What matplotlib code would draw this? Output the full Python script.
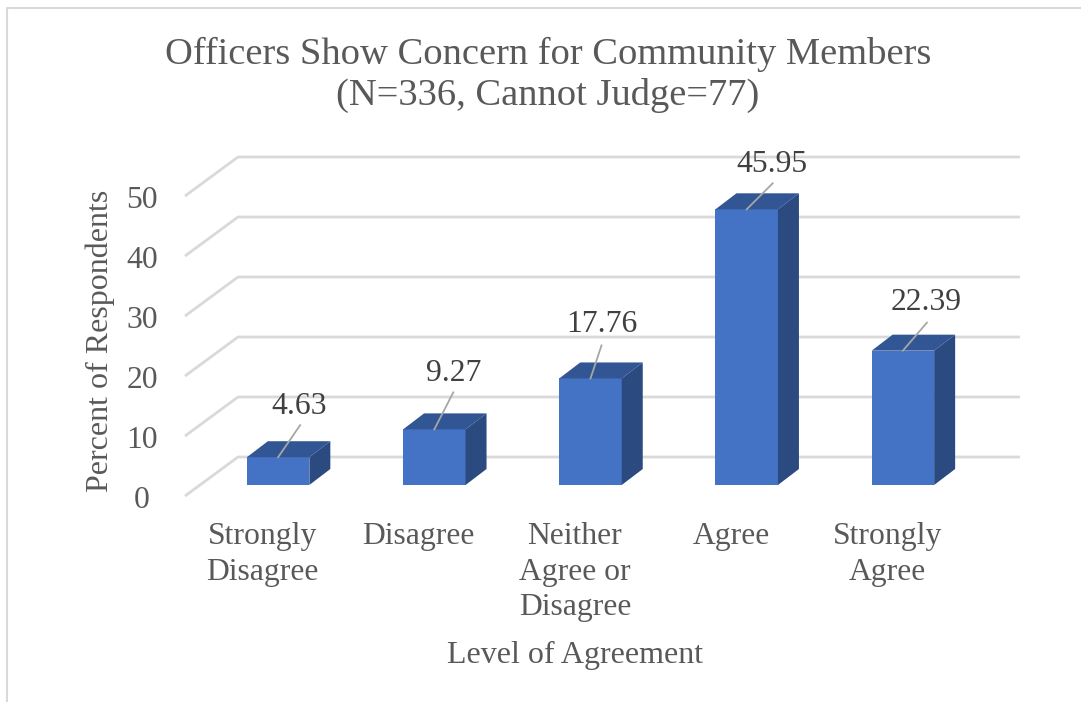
import matplotlib
matplotlib.use('Agg')
import matplotlib.pyplot as plt
from matplotlib.patches import Polygon

W, H = 1081, 702

categories = ['Strongly\nDisagree', 'Disagree', 'Neither\nAgree or\nDisagree', 'Agree', 'Strongly\nAgree']
values = [4.63, 9.27, 17.76, 45.95, 22.39]
yticks = [0, 10, 20, 30, 40, 50]
title = 'Officers Show Concern for Community Members\n(N=336, Cannot Judge=77)'

# data label centre and leader line end, relative to the top of the bar, in pixels
label_offsets = [(21, 51), (19, 56), (11, 54), (25, 45), (23, 48)]
leader_offsets = [(22, 32), (19, 37), (11, 33), (26, 26), (24, 28)]

plt.rcParams['font.family'] = ['Liberation Serif', 'DejaVu Serif']

fig = plt.figure(figsize=(W / 100, H / 100), dpi=100)

# axes box is the front of the bars: 0 at y=485px, 6px per unit, 156.25px per category
ax = fig.add_axes([200 / W, 1 - 485 / H, 781 / W, 300 / H])
ax.set_xlim(-0.5, 4.5)
ax.set_ylim(0, 50)
ax.axis('off')

px_x = 5 / 781
px_y = 50 / 300

# floor and wall gridlines, drawn in the 3d look
for v in yticks:
    xs = [-0.5 - 15 * px_x, -0.5 + 38 * px_x, 4.5 + 39 * px_x]
    ys = [v - 11 * px_y, v + 28 * px_y, v + 28 * px_y]
    ax.plot(xs, ys, color='#D9D9D9', lw=2.0, clip_on=False, zorder=1, solid_capstyle='butt')
    ax.text(-0.5 - 58 * px_x, v - 15 * px_y, str(v), ha='center', va='center',
            fontsize=22.8, color='#595959', clip_on=False)

bar_w = 0.4
dx = 21 * px_x
dy = 16 * px_y
ax.bar(range(5), values, width=bar_w, color='#4472C4', zorder=3, clip_on=False)
for i, v in enumerate(values):
    l = i - bar_w / 2
    r = i + bar_w / 2
    ax.add_patch(Polygon([(l, v), (r, v), (r + dx, v + dy), (l + dx, v + dy)],
                         closed=True, fc='#325694', ec='none', zorder=3, clip_on=False))
    ax.add_patch(Polygon([(r, 0), (r + dx, dy), (r + dx, v + dy), (r, v)],
                         closed=True, fc='#2A4A80', ec='none', zorder=3, clip_on=False))
    off = label_offsets[i]
    ax.annotate(f'{v:.2f}', xy=(i, v), xycoords='data',
                xytext=(off[0] * 0.72, off[1] * 0.72), textcoords='offset points',
                ha='center', va='center', fontsize=22.8, color='#404040', zorder=5,
                annotation_clip=False)
    lead = leader_offsets[i]
    ax.plot([i, i + lead[0] * px_x], [v, v + lead[1] * px_y], color='#A6A6A6', lw=1.3,
            zorder=4, clip_on=False)
    ax.text(i - 0.1, -(37 * px_y), categories[i], ha='center', va='top',
            fontsize=22.8, color='#595959', linespacing=1.3, clip_on=False)

fig.text(548 / W, 1 - 75 / H, title, ha='center', va='center', fontsize=27.7,
         color='#595959', linespacing=1.23)
fig.text(100 / W, 1 - 341 / H, 'Percent of Respondents', rotation=90, ha='center', va='center',
         fontsize=23, color='#595959')
fig.text(575 / W, 1 - 655 / H, 'Level of Agreement', ha='center', va='center',
         fontsize=23, color='#595959')

# chart frame, only top and left show
fig.add_artist(plt.Line2D([7 / W, 7 / W, 1081 / W], [0, 1 - 8 / H, 1 - 8 / H],
                          color='#D9D9D9', lw=1.5))

fig.savefig('out.png', dpi=100)
